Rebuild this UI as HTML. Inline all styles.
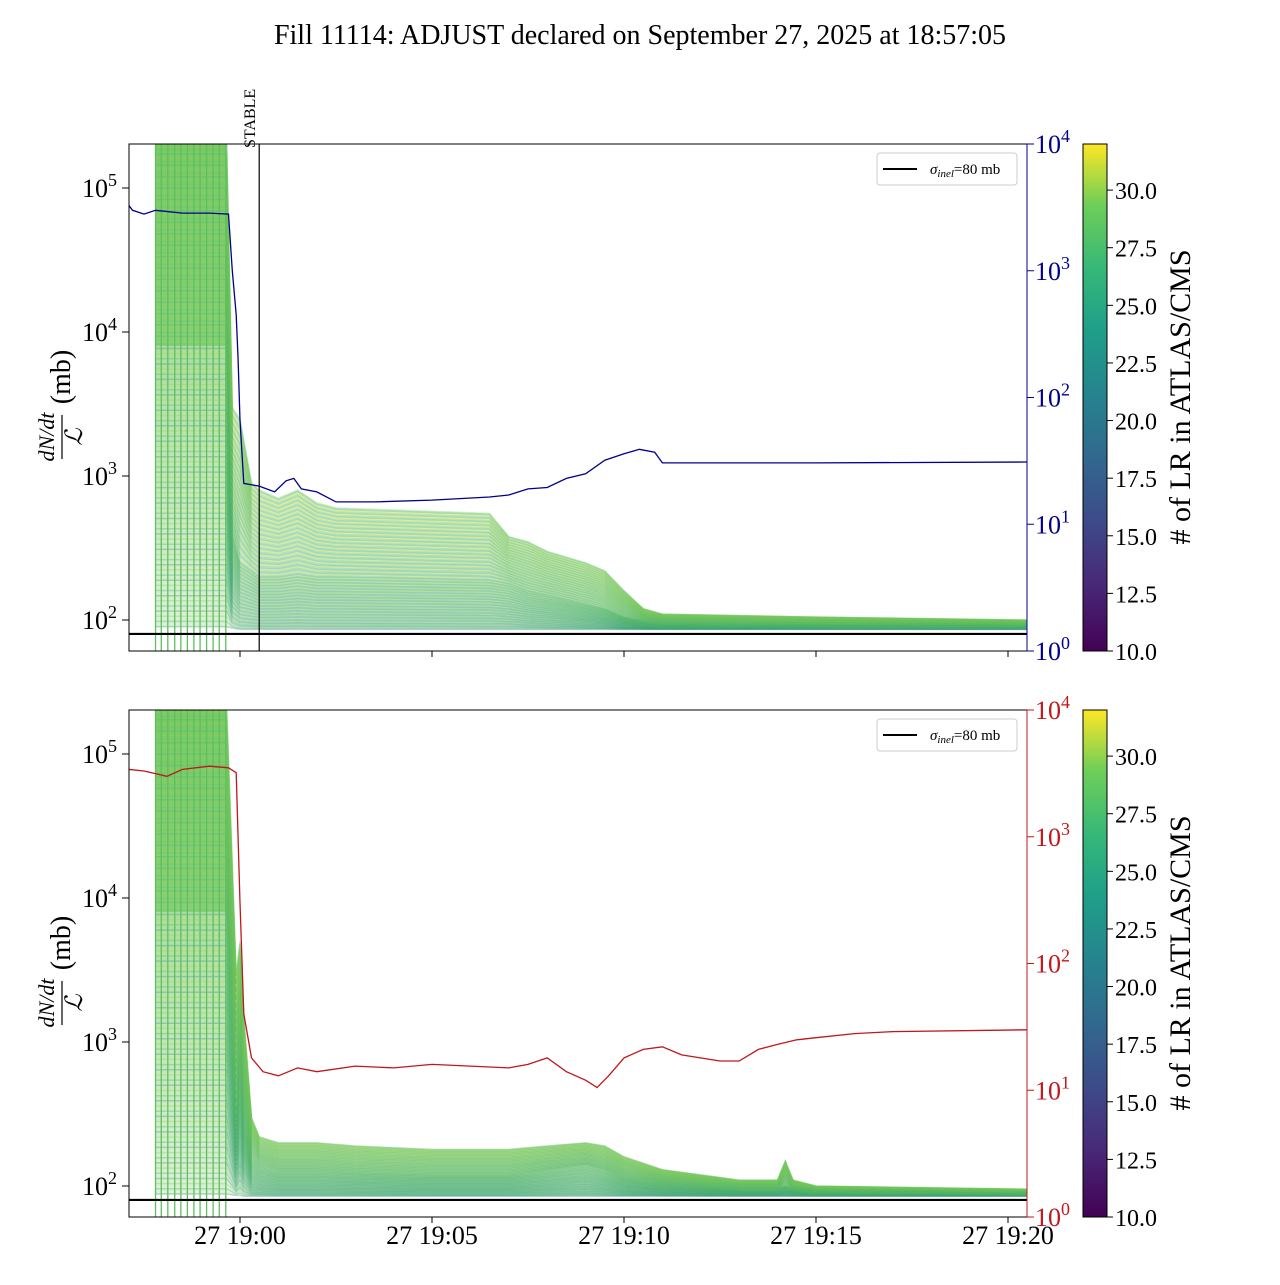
<!DOCTYPE html>
<html><head><meta charset="utf-8"><style>
body{margin:0;background:#fff}
svg text{font-family:"Liberation Serif",serif}
</style></head><body>
<svg id="c" width="1280" height="1280" xmlns="http://www.w3.org/2000/svg">
<defs>
<linearGradient id="vir" x1="0" y1="1" x2="0" y2="0">
<stop offset="0" stop-color="#440154"/><stop offset="0.13" stop-color="#482878"/><stop offset="0.25" stop-color="#3e4989"/><stop offset="0.38" stop-color="#31688e"/><stop offset="0.5" stop-color="#26828e"/><stop offset="0.63" stop-color="#1f9e89"/><stop offset="0.75" stop-color="#35b779"/><stop offset="0.88" stop-color="#6ece58"/><stop offset="1" stop-color="#fde725"/>
</linearGradient>
<linearGradient id="fadeT" x1="0" y1="0" x2="0" y2="1">
<stop offset="0" stop-color="#6cc45a" stop-opacity="0.8"/><stop offset="1" stop-color="#6cc45a" stop-opacity="0.05"/>
</linearGradient>
<clipPath id="clipT"><rect x="129" y="144" width="898" height="507"/></clipPath>
<clipPath id="clipB"><rect x="129" y="710" width="898" height="507"/></clipPath>
</defs>
<text x="640" y="44" font-size="28" text-anchor="middle">Fill 11114: ADJUST declared on September 27, 2025 at 18:57:05</text>
</svg>
<script>
// ---- data (time in minutes relative to 19:00) ----
const bundleTimesTop=[-2.2,-0.35,-0.2,0.0,0.3,0.5,1.0,1.5,2.0,2.5,6.5,7.0,7.5,8.0,9.0,9.5,10.0,10.5,11.0,15,20.5];
const bundleHiTop=[2.2e5,2.2e5,3000,2500,900,800,700,800,650,600,550,380,350,300,250,220,160,120,110,105,100];
const bundleMidTop=[8000,8000,400,250,220,200,200,210,200,200,190,180,160,150,130,120,105,98,95,93,92];
const bundleLoTop=[90,90,88,86,86,86,86,86,86,86,86,86,86,86,86,86,86,86,86,86,86];
const bundleTimesBot=[-2.2,-0.35,-0.1,0.0,0.1,0.3,0.5,1.0,2.0,3.0,5.0,7.0,8.0,9.0,9.5,10.0,11.0,13.0,14.0,14.2,14.4,15.0,20.5];
const bundleHiBot=[2.2e5,2.2e5,3000,5000,1500,300,220,200,200,190,180,180,190,200,190,160,130,110,110,150,110,100,95];
const bundleMidBot=[8000,8000,300,800,300,150,140,130,130,125,120,120,130,140,130,115,105,95,95,100,95,92,90];
const bundleLoBot=[88,88,86,86,85,85,85,85,85,85,85,85,85,85,85,85,85,85,85,85,85,85,85];
const spikeTimes=[-2.2,-2.05,-1.88,-1.7,-1.54,-1.37,-1.2,-1.04,-0.87,-0.7,-0.54,-0.37];
const blueTimes=[-2.9,-2.8,-2.5,-2.2,-1.5,-0.8,-0.3,-0.2,-0.1,-0.05,0,0.1,0.5,0.9,1.2,1.4,1.6,2.0,2.5,3.5,5.0,6.5,7.0,7.5,8.0,8.5,9.0,9.5,10.0,10.4,10.8,11.0,15,20.5];
const blueVals=[3300,3000,2800,3000,2850,2850,2800,1000,450,200,66,21,20,18,22,23,19,18,15,15,15.5,16.4,17,19,19.5,23,25,32,36,39,37,30.5,30.5,31];
const redTimes=[-2.9,-2.5,-1.9,-1.5,-0.8,-0.3,-0.1,0,0.1,0.3,0.6,1.0,1.5,2.0,3.0,4.0,5.0,6.0,7.0,7.5,8.0,8.5,9.0,9.3,9.6,10.0,10.5,11.0,11.5,12.5,13.0,13.5,14.0,14.5,15.0,16.0,17.0,20.5];
const redVals=[3400,3300,3000,3400,3600,3500,3200,300,40,18,14,13,15,14,15.5,15,16,15.5,15,16,18,14,12,10.5,13,18,21,22,19,17,17,21,23,25,26,28,29,30];
const ticksX=[0,5,10,15,20];
const tickLabelsX=["27 19:00","27 19:05","27 19:10","27 19:15","27 19:20"];
const cbTicks=[10,12.5,15,17.5,20,22.5,25,27.5,30];
const cbLabels=["10.0","12.5","15.0","17.5","20.0","22.5","25.0","27.5","30.0"];

const S=document.getElementById('c');const NS='http://www.w3.org/2000/svg';
function mk(tag,at,parent){const e=document.createElementNS(NS,tag);for(const k in at)e.setAttribute(k,at[k]);(parent||S).appendChild(e);return e;}
const X0=129,X1=1027;
const xs=t=>240+t*38.4;
const VIR=[[68,1,84],[72,40,120],[62,73,137],[49,104,142],[38,130,142],[31,158,137],[53,183,121],[110,206,88],[181,222,43],[253,231,37]];
function vir(v){let f=(v-10)/22;f=Math.max(0,Math.min(1,f))*9;const i=Math.min(8,Math.floor(f)),r=f-i;const a=VIR[i],b=VIR[i+1];return 'rgb('+a.map((c,k)=>Math.round(c+(b[k]-c)*r)).join(',')+')';}

function panel(top,times,hi,mid,lo,lineT,lineV,lineColor,pfx){
  const bot=top+507;
  const yl=v=>top+44+(5-Math.log10(v))*144;
  const yr=v=>bot-Math.log10(v)*126.75;
  const g=mk('g',{'clip-path':'url(#clip'+pfx+')'});
  
  
  // faded block under dense region
  const x0=xs(times[0]),x1=xs(times[1]);
  const fb=mk('rect',{x:x0,y:top,width:x1-x0,height:bot-top-20,fill:'url(#fadeT)'},g);
  
  
  let env='';
  for(let k=0;k<times.length;k++)env+=(k?'L':'M')+xs(times[k]).toFixed(1)+','+yl(hi[k]).toFixed(1);
  for(let k=times.length-1;k>=0;k--)env+='L'+xs(times[k]).toFixed(1)+','+yl(lo[k]).toFixed(1);
  const ep=mk('path',{d:env+'Z',fill:'#8fcf6a','fill-opacity':0.25,stroke:'none'},g);
  
  
  const N=110;
  for(let i=0;i<N;i++){
    const f=i/(N-1);
    const val=19+((i*37)%N)/N*12;
    let d='';
    for(let k=0;k<times.length;k++){
      const lh=Math.log(hi[k]),lm=Math.log(mid[k]),ll=Math.log(lo[k]);
      const lv=f<0.5?ll+(lm-ll)*(f/0.5):lm+(lh-lm)*((f-0.5)/0.5);
      d+=(k?'L':'M')+xs(times[k]).toFixed(1)+','+yl(Math.exp(lv)).toFixed(1);
    }
    const p=mk('path',{d:d,fill:'none',stroke:vir(val),'stroke-width':1.5,'stroke-opacity':0.3},g);
    
    
  }
  let blk='';
  for(let k=0;k<2;k++)blk+=(k?'L':'M')+xs(times[k]).toFixed(1)+','+yl(hi[k]).toFixed(1);
  for(let k=1;k>=0;k--)blk+='L'+xs(times[k]).toFixed(1)+','+yl(mid[k]).toFixed(1);
  const bp=mk('path',{d:blk+'Z',fill:'#6cc45a','fill-opacity':0.55,stroke:'none'},g);
  
  
  for(const t of spikeTimes){
    const l=mk('line',{x1:xs(t),x2:xs(t),y1:top,y2:bot,stroke:'#5cc05c','stroke-width':1.3},g);
    
    
  }
  let d='';
  for(let k=0;k<lineT.length;k++)d+=(k?'L':'M')+xs(lineT[k]).toFixed(1)+','+yr(lineV[k]).toFixed(1);
  const pl=mk('path',{d:d,fill:'none',stroke:lineColor,'stroke-width':1.3},g);
  
  
  const sl=mk('line',{x1:X0,x2:X1,y1:yl(80),y2:yl(80),stroke:'#000','stroke-width':2.2});
  
  
  const fr=mk('rect',{x:X0,y:top,width:X1-X0,height:507,fill:'none',stroke:'#000','stroke-width':1});
  
  
  for(let e=2;e<=5;e++){
    const y=yl(Math.pow(10,e));
    mk('line',{x1:X0,x2:X0-7,y1:y,y2:y,stroke:'#000'});
    const t=mk('text',{x:X0-12,y:y+9,'font-size':26,'text-anchor':'end'});
    
    
    t.innerHTML='10<tspan dy="-11" font-size="18">'+e+'</tspan>';
  }
  for(let e=0;e<=4;e++){
    const y=yr(Math.pow(10,e));
    mk('line',{x1:X1,x2:X1+7,y1:y,y2:y,stroke:lineColor});
    const t=mk('text',{x:X1+8,y:y+9,'font-size':26,fill:lineColor});
    
    
    t.innerHTML='10<tspan dy="-11" font-size="18">'+e+'</tspan>';
  }
  mk('line',{x1:X1,x2:X1,y1:top,y2:bot,stroke:lineColor,'stroke-width':1});
  ticksX.forEach((t,i)=>{
    mk('line',{x1:xs(t),x2:xs(t),y1:bot,y2:bot+6,stroke:'#000'});
    if(pfx==='B'){
      const tx=mk('text',{x:xs(t),y:bot+27,'font-size':26,'text-anchor':'middle'});
      
      
      tx.textContent=tickLabelsX[i];
    }
  });
  const yg=mk('g',{transform:'translate(62,'+(top+253)+') rotate(-90)'});
  
  
  mk('text',{x:-40,y:-8,'font-size':22,'font-style':'italic','text-anchor':'middle'},yg).textContent='dN/dt';
  mk('line',{x1:-62,x2:-18,y1:0,y2:0,stroke:'#000','stroke-width':1.2},yg);
  mk('text',{x:-40,y:20,'font-size':24,'font-style':'italic','text-anchor':'middle'},yg).textContent='ℒ';
  mk('text',{x:20,y:8,'font-size':28,'text-anchor':'middle'},yg).textContent='(mb)';
  const lg=mk('g',{});
  
  
  mk('rect',{x:877,y:top+9,width:140,height:32,rx:3,fill:'#fff',stroke:'#ccc'},lg);
  mk('line',{x1:883,x2:917,y1:top+25,y2:top+25,stroke:'#000','stroke-width':2},lg);
  const lt=mk('text',{x:930,y:top+30,'font-size':15},lg);
  lt.innerHTML='<tspan font-style="italic">σ</tspan><tspan font-style="italic" font-size="11" dy="3">inel</tspan><tspan dy="-3">=80 mb</tspan>';
  const cb=mk('rect',{x:1083,y:top,width:24,height:507,fill:'url(#vir)',stroke:'#000','stroke-width':1});
  
  
  const cy=v=>bot-(v-10)/22*507;
  cbTicks.forEach((v,i)=>{
    mk('line',{x1:1107,x2:1113,y1:cy(v),y2:cy(v),stroke:'#000'});
    const t=mk('text',{x:1115,y:cy(v)+9,'font-size':24});
    
    
    t.textContent=cbLabels[i];
  });
  const ct=mk('text',{x:0,y:0,'font-size':30,'text-anchor':'middle',transform:'translate(1190,'+(top+253)+') rotate(-90)'});
  
  
  ct.textContent='# of LR in ATLAS/CMS';
}
panel(144,bundleTimesTop,bundleHiTop,bundleMidTop,bundleLoTop,blueTimes,blueVals,'#00008b','T');
panel(710,bundleTimesBot,bundleHiBot,bundleMidBot,bundleLoBot,redTimes,redVals,'#c0171b','B');
const stl=mk('line',{x1:xs(0.5),x2:xs(0.5),y1:144,y2:651,stroke:'#000','stroke-width':1.2});


const stt=mk('text',{x:0,y:0,'font-size':16,transform:'translate('+(xs(0.5)-4)+',148) rotate(-90)'});


stt.textContent='STABLE';
</script>
</body></html>
